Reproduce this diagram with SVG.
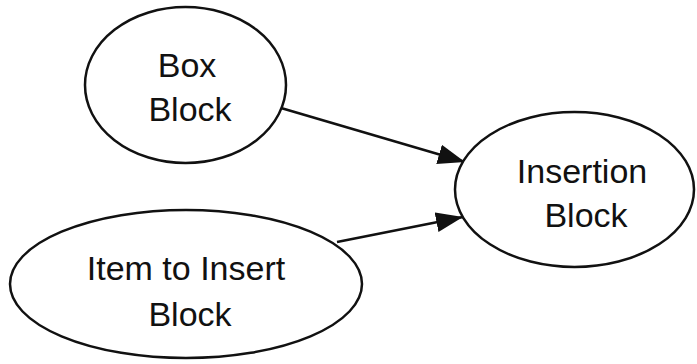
<svg xmlns="http://www.w3.org/2000/svg" width="697" height="364" viewBox="0 0 697 364">
  <style>
    .node ellipse { fill: #ffffff; stroke: #111111; stroke-width: 2.5; }
    .node text { font-family: "Liberation Sans", Arial, sans-serif; font-size: 34px; fill: #111111; text-anchor: middle; }
    .edge { stroke: #111111; stroke-width: 2.5; fill: none; marker-end: url(#arrow); }
  </style>
  <defs>
    <marker id="arrow" markerUnits="userSpaceOnUse" markerWidth="28" markerHeight="22" refX="27" refY="10" orient="auto">
      <path d="M0,0 L27,10 L0,20 Z" fill="#111111"/>
    </marker>
  </defs>
  <rect width="697" height="364" fill="#ffffff"/>

  <g id="edges">
    <line class="edge" x1="281" y1="108" x2="465" y2="162"/>
    <line class="edge" x1="337" y1="242" x2="463" y2="217"/>
  </g>

  <g id="box-block" class="node">
    <ellipse cx="185.5" cy="85" rx="100.5" ry="78"/>
    <text x="187" y="77">Box</text>
    <text x="190" y="121">Block</text>
  </g>

  <g id="item-block" class="node">
    <ellipse cx="186" cy="284" rx="176" ry="74"/>
    <text x="186" y="280">Item to Insert</text>
    <text x="190" y="326">Block</text>
  </g>

  <g id="insertion-block" class="node">
    <ellipse cx="574.5" cy="189.5" rx="119.5" ry="77.5"/>
    <text x="582" y="183">Insertion</text>
    <text x="586" y="227">Block</text>
  </g>
</svg>
